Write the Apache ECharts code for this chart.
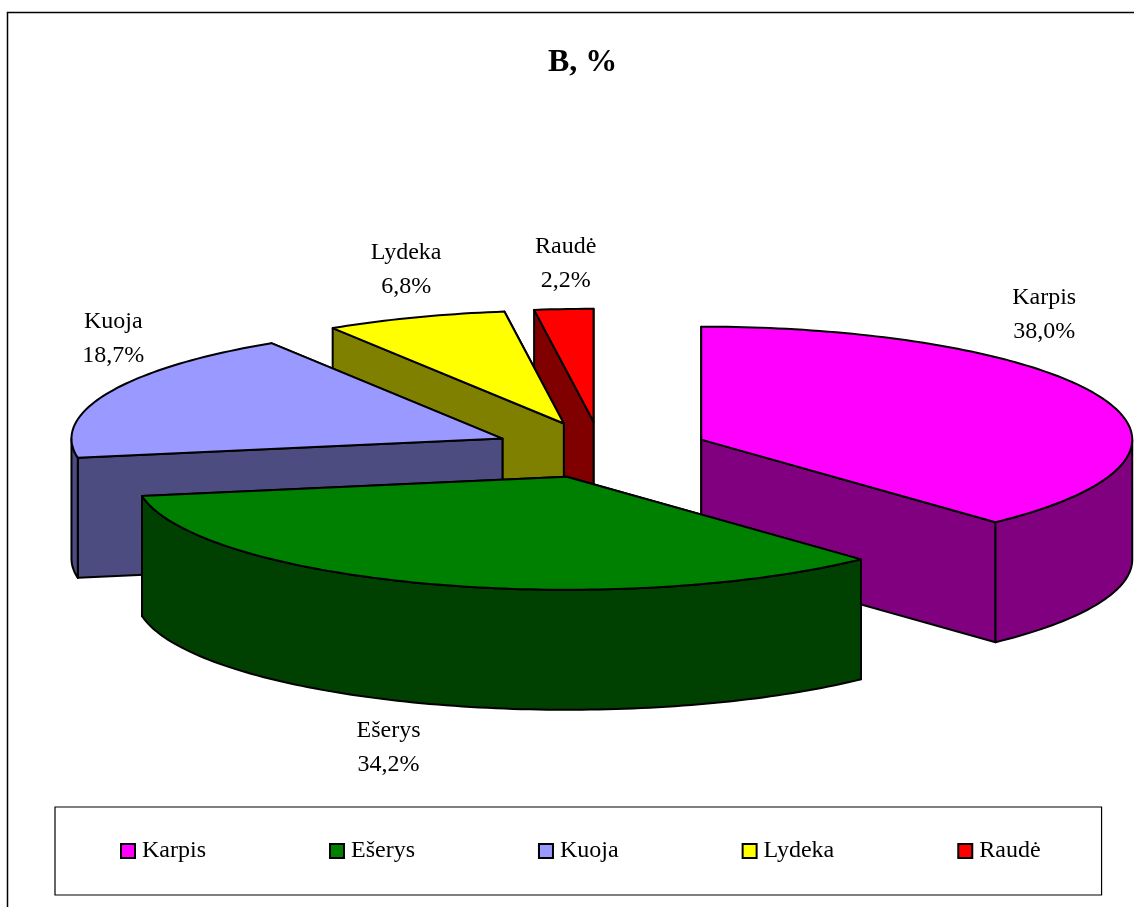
<!DOCTYPE html>
<html>
<head>
<meta charset="utf-8">
<style>html,body{margin:0;padding:0;background:#fff}#c{width:1134px;height:907px}</style>
<script src="https://cdn.jsdelivr.net/npm/echarts@6/dist/echarts.min.js"></script>
</head>
<body>
<div id="c"></div>
<script>
var categories = ['Karpis', 'Ešerys', 'Kuoja', 'Lydeka', 'Raudė'];
var values = [38.0, 34.2, 18.7, 6.8, 2.2];
var valueLabels = ['38,0%', '34,2%', '18,7%', '6,8%', '2,2%'];
var topColors = ['#FF00FF', '#008000', '#9999FF', '#FFFF00', '#FF0000'];
var sideColors = ['#800080', '#004000', '#4C4C80', '#808000', '#800000'];
var drawOrder = [3, 4, 2, 1, 0];   // z rank of each slice, back to front

// Pie projection (layout)
var CX = 601, CY = 450, RX = 431, RY = 113, DEPTH = 120, EXPLODE = 0.25;
// Label centre, as an offset from the outer-arc midpoint of the slice
var labelOffsets = [[-58, -83], [-41, 164], [5, -54], [-9, -48], [2, -45]];

var total = values.reduce(function (a, b) { return a + b; }, 0);

function renderSlice(params, api) {
  var i = params.seriesIndex;
  var value = api.value(0), before = api.value(1);
  var a0 = before / total * 2 * Math.PI;
  var a1 = (before + value) / total * 2 * Math.PI;
  var mid = (a0 + a1) / 2;
  var vx = CX + EXPLODE * RX * Math.sin(mid);
  var vy = CY - EXPLODE * RY * Math.cos(mid);
  function pt(a, dz) {
    return [vx + RX * Math.sin(a), vy - RY * Math.cos(a) + (dz || 0)];
  }
  function arc(from, to, dz) {
    var n = Math.max(2, Math.ceil(Math.abs(to - from) / 0.02)), out = [];
    for (var k = 0; k <= n; k++) out.push(pt(from + (to - from) * k / n, dz));
    return out;
  }
  function poly(points, fill) {
    return { type: 'polygon', shape: { points: points }, silent: true,
      style: { fill: fill, stroke: '#000', lineWidth: 2, lineJoin: 'round' } };
  }
  var side = sideColors[i], kids = [];
  var down = function (p) { return [p[0], p[1] + DEPTH]; };
  var V = [vx, vy], A = pt(a0), B = pt(a1);
  // flat cut walls: the one running further up the picture goes behind
  var walls = [A, B].sort(function (p, q) { return p[1] - q[1]; });
  walls.forEach(function (P) {
    kids.push(poly([V, P, down(P), down(V)], side));
  });
  // curved outer wall: only the part that faces the viewer
  var f0 = Math.max(a0, Math.PI / 2), f1 = Math.min(a1, 1.5 * Math.PI);
  if (f1 > f0) {
    kids.push(poly(arc(f0, f1).concat(arc(f1, f0, DEPTH)), side));
  }
  // top face
  kids.push(poly([V].concat(arc(a0, a1)), topColors[i]));
  // label
  var m = pt(mid), off = labelOffsets[i];
  kids.push({ type: 'text', silent: true, z2: 10,
    style: { x: m[0] + off[0], y: m[1] + off[1],
      text: categories[i] + '\n' + valueLabels[i],
      font: '24px "Liberation Serif"', lineHeight: 34,
      fill: '#000', align: 'center', verticalAlign: 'middle' } });
  return { type: 'group', children: kids };
}

var cumulative = 0;
var series = categories.map(function (name, i) {
  var s = {
    type: 'custom', name: name, z: 2 + drawOrder[i],
    coordinateSystem: 'none',
    renderItem: renderSlice,
    itemStyle: { color: topColors[i] },
    encode: { value: 0 },
    animation: false,
    data: [[values[i], cumulative]]
  };
  cumulative += values[i];
  return s;
});

var chart = echarts.init(document.getElementById('c'), null, { renderer: 'canvas' });
chart.setOption({
  animation: false,
  backgroundColor: '#fff',
  title: {
    text: 'B, %', left: 548, top: 47,
    padding: 0,
    textStyle: { fontFamily: 'Liberation Serif', fontWeight: 'bold', fontSize: 32, color: '#000' }
  },
  graphic: [{
    type: 'rect', z: 0, silent: true,
    shape: { x: 7.5, y: 12.5, width: 1300, height: 1000 },
    style: { fill: 'none', stroke: '#000', lineWidth: 1.5 }
  }],
  legend: {
    show: true,
    data: categories,
    left: 55, top: 807, orient: 'horizontal',
    padding: [32, 61, 32, 65],
    itemGap: 123, itemWidth: 14, itemHeight: 14,
    icon: 'rect',
    selectedMode: false,
    borderColor: '#000', borderWidth: 1.2,
    itemStyle: { borderColor: '#000', borderWidth: 2 },
    textStyle: { fontFamily: 'Liberation Serif', fontSize: 24, color: '#000', padding: [0, 0, 0, 2] }
  },
  series: series
});
</script>
</body>
</html>
